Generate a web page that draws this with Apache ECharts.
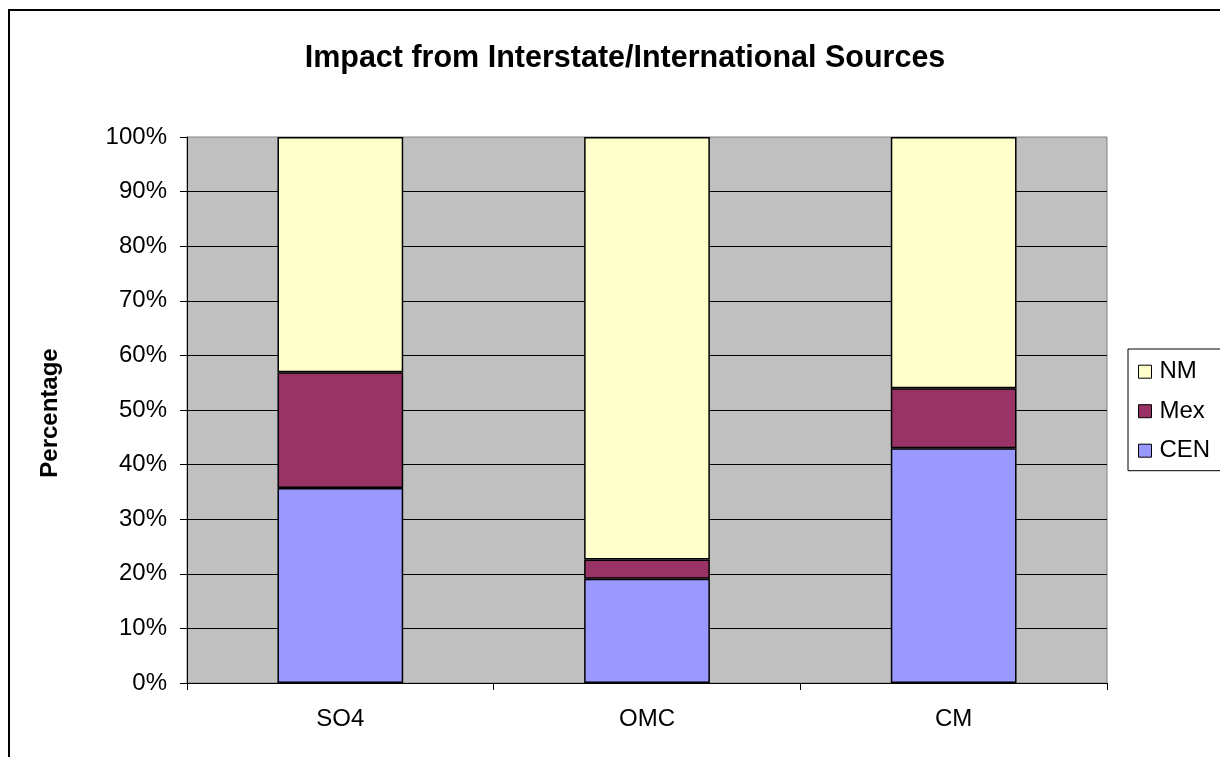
<!DOCTYPE html>
<html>
<head>
<meta charset="utf-8">
<title>Impact from Interstate/International Sources</title>
<script src="https://cdn.jsdelivr.net/npm/echarts@6/dist/echarts.min.js"></script>
<style>
  html, body { margin: 0; padding: 0; background: #fff; }
  #chart { width: 1220px; height: 757px; }
</style>
</head>
<body>
<div id="chart"></div>
<script>
// Source regions stacked to 100% for each species
const categories = ['SO4', 'OMC', 'CM'];
const cenValues = [35.7, 19.1, 43.0];
const mexValues = [21.2, 3.5, 11.0];
const nmValues = [43.1, 77.4, 46.0];
const legendOrder = ['NM', 'Mex', 'CEN'];

const FONT = '"Liberation Sans", Arial, sans-serif';

const chart = echarts.init(document.getElementById('chart'), null, { renderer: 'canvas' });

function barSeries(name, values, color) {
  return {
    name: name,
    type: 'bar',
    stack: 'total',
    data: values,
    barCategoryGap: '59%',
    itemStyle: { color: color, borderColor: '#000', borderWidth: 1.5 },
    emphasis: { disabled: true }
  };
}

chart.setOption({
  animation: false,
  backgroundColor: '#fff',
  textStyle: { fontFamily: FONT },
  title: {
    text: 'Impact from Interstate/International Sources',
    left: 620,
    top: 38,
    textAlign: 'center',
    textStyle: { fontFamily: FONT, fontSize: 30.5, fontWeight: 'bold', color: '#000' }
  },
  graphic: [{
    type: 'rect',
    silent: true,
    shape: { x: 9, y: 10, width: 1400, height: 900 },
    style: { fill: 'none', stroke: '#000', lineWidth: 2 }
  }],
  legend: {
    orient: 'vertical',
    left: 1128,
    top: 349,
    data: legendOrder,
    itemWidth: 13,
    itemHeight: 13,
    itemGap: 15.5,
    padding: [10.7, 40, 8, 10],
    borderColor: '#000',
    borderWidth: 1,
    backgroundColor: '#fff',
    icon: 'rect',
    itemStyle: { borderColor: '#000', borderWidth: 1 },
    textStyle: { fontFamily: FONT, fontSize: 24, color: '#000', lineHeight: 24, padding: [0, 0, 0, 3] },
    selectedMode: false
  },
  grid: {
    left: 187,
    right: 113,
    top: 137,
    bottom: 74,
    show: true,
    backgroundColor: '#C0C0C0',
    borderColor: '#808080',
    borderWidth: 1,
    containLabel: false
  },
  xAxis: {
    type: 'category',
    data: categories,
    axisLine: { lineStyle: { color: '#000', width: 1 } },
    axisTick: { show: true, length: 7, lineStyle: { color: '#000' } },
    axisLabel: { fontFamily: FONT, fontSize: 24, color: '#000', margin: 24 }
  },
  yAxis: {
    type: 'value',
    min: 0,
    max: 100,
    interval: 10,
    name: 'Percentage',
    nameLocation: 'middle',
    nameRotate: 90,
    nameGap: 125,
    nameTextStyle: { fontFamily: FONT, fontSize: 24, fontWeight: 'bold', color: '#000', padding: [0, 6, 0, 0] },
    axisLine: { show: true, lineStyle: { color: '#000', width: 1 } },
    axisTick: { show: true, length: 7, lineStyle: { color: '#000' } },
    axisLabel: { fontFamily: FONT, fontSize: 24, color: '#000', margin: 20, formatter: '{value}%' },
    splitLine: { show: true, showMaxLine: false, lineStyle: { color: '#000', width: 1 } }
  },
  series: [
    barSeries('CEN', cenValues, '#9999FF'),
    barSeries('Mex', mexValues, '#993366'),
    barSeries('NM', nmValues, '#FFFFCC')
  ]
});
</script>
</body>
</html>
